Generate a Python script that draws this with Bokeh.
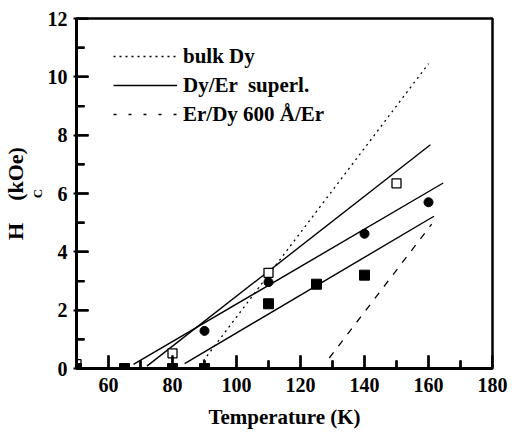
import math
from bokeh.plotting import figure
from bokeh.models import FixedTicker, Range1d, Legend, LegendItem, Title, BoxAnnotation
from bokeh.embed import file_html
from bokeh.resources import INLINE

# ---- data ----
open_sq_x = [50, 80, 110, 150]
open_sq_y = [0.15, 0.52, 3.28, 6.35]

circ_x = [90, 110, 140, 160]
circ_y = [1.29, 2.96, 4.62, 5.70]

fill_sq_x = [50, 65, 80, 90, 110, 125, 140]
fill_sq_y = [0.0, 0.0, 0.0, 0.0, 2.22, 2.89, 3.20]

# fit lines (endpoints)
bulk_x = [88.5, 160]
bulk_y = [0.1, 10.45]

film_x = [129, 161]
film_y = [0.36, 4.95]

sl_a_x = [72, 160.6]
sl_a_y = [0.08, 7.67]
sl_b_x = [67.8, 164.6]
sl_b_y = [0.14, 6.36]
sl_c_x = [83.8, 161.7]
sl_c_y = [0.17, 5.22]

x_major = [60, 80, 100, 120, 140, 160, 180]
x_minor = [50, 70, 90, 110, 130, 150, 170]
y_major = [0, 2, 4, 6, 8, 10, 12]
y_minor = [1, 3, 5, 7, 9, 11]

legend_labels = ["bulk Dy", "Dy/Er  superl.", "Er/Dy 600 Å/Er"]
x_title = "Temperature (K)"
y_title_main = "H\u00a0\u00a0\u00a0\u00a0(kOe)"
y_title_sub = "C"

FONT = "Liberation Serif"
NAN = float("nan")
X0, X1, Y0, Y1 = 50, 180, 0, 12
FRAME_W, FRAME_H = 417, 350

p = figure(width=527, height=440, output_backend="svg", toolbar_location=None,
           x_range=Range1d(X0, X1), y_range=Range1d(Y0, Y1),
           min_border_left=75, min_border_right=35, min_border_top=18,
           min_border_bottom=72)
p.grid.visible = False
p.background_fill_color = "white"
p.border_fill_color = "white"
p.outline_line_color = "black"
p.outline_line_width = 2.5

p.xaxis.ticker = FixedTicker(ticks=x_major, minor_ticks=x_minor)
p.yaxis.ticker = FixedTicker(ticks=y_major, minor_ticks=y_minor)

p.axis.axis_line_width = 3
p.axis.axis_line_color = "black"
p.axis.major_tick_line_color = "black"
p.axis.minor_tick_line_color = "black"
p.axis.major_tick_line_width = 2
p.axis.minor_tick_line_width = 2
p.axis.major_label_text_font = FONT
p.axis.major_label_text_font_style = "bold"
p.axis.major_label_text_font_size = "20px"
p.axis.major_label_text_color = "black"

p.xaxis.major_tick_in = 13
p.xaxis.major_tick_out = 0
p.xaxis.minor_tick_in = 8
p.xaxis.minor_tick_out = 0
p.yaxis.major_tick_in = 12
p.yaxis.major_tick_out = 3
p.yaxis.minor_tick_in = 8
p.yaxis.minor_tick_out = 0
p.xaxis.major_label_standoff = 9
p.yaxis.major_label_standoff = 6

p.xaxis.axis_label = x_title
p.xaxis.axis_label_text_font = FONT
p.xaxis.axis_label_text_font_style = "bold"
p.xaxis.axis_label_text_font_size = "21px"
p.xaxis.axis_label_text_color = "black"
p.xaxis.axis_label_standoff = 10

# y-axis title: subscript column (closer to axis) then main column
t_sub = Title(text=y_title_sub, align="center", offset=-24, standoff=0,
              text_font=FONT, text_font_style="bold", text_font_size="13px",
              text_color="black")
t_main = Title(text=y_title_main, align="center", offset=0, standoff=0,
               text_font=FONT, text_font_style="bold", text_font_size="22px",
               text_color="black")
p.add_layout(t_sub, "left")
p.add_layout(t_main, "left")

# lines
r_bulk = p.line(bulk_x, bulk_y, line_color="black", line_width=1.3, line_dash="2 4")
r_film = p.line(film_x, film_y, line_color="black", line_width=1.3, line_dash="7 8")
r_a = p.line(sl_a_x, sl_a_y, line_color="black", line_width=1.4)
r_b = p.line(sl_b_x, sl_b_y, line_color="black", line_width=1.4)
r_c = p.line(sl_c_x, sl_c_y, line_color="black", line_width=1.4)

# inward tick marks, also drawn as "dash" markers from the tick arrays
dx = (X1 - X0) / FRAME_W   # data units per pixel (x)
dy = (Y1 - Y0) / FRAME_H   # data units per pixel (y)
p.scatter(x=x_major, y=[Y0 + 6.5 * dy] * len(x_major), marker="dash", size=13,
          angle=math.pi / 2, line_color="black", line_width=2)
p.scatter(x=x_minor, y=[Y0 + 4 * dy] * len(x_minor), marker="dash", size=8,
          angle=math.pi / 2, line_color="black", line_width=2)
p.scatter(x=[X0 + 6 * dx] * len(y_major), y=y_major, marker="dash", size=12,
          line_color="black", line_width=2)
p.scatter(x=[X0 + 4 * dx] * len(y_minor), y=y_minor, marker="dash", size=8,
          line_color="black", line_width=2)

# markers
p.scatter(open_sq_x, open_sq_y, marker="square", size=9, fill_color="white",
          line_color="black", line_width=1.3)
p.scatter(circ_x, circ_y, marker="circle", size=9, fill_color="black", line_color="black")
p.scatter(fill_sq_x, fill_sq_y, marker="square", size=10, fill_color="black", line_color="black")

# tick marks as small filled box annotations (drawn at annotation level)
for t in x_major:
    p.add_layout(BoxAnnotation(left=t - dx, right=t + dx, bottom=Y0, top=Y0 + 13 * dy,
                               fill_color="black", fill_alpha=1.0, line_alpha=0))
for t in x_minor:
    p.add_layout(BoxAnnotation(left=t - dx, right=t + dx, bottom=Y0, top=Y0 + 8 * dy,
                               fill_color="black", fill_alpha=1.0, line_alpha=0))
for t in y_major:
    p.add_layout(BoxAnnotation(left=X0, right=X0 + 12 * dx, bottom=t - dy, top=t + dy,
                               fill_color="black", fill_alpha=1.0, line_alpha=0))
for t in y_minor:
    p.add_layout(BoxAnnotation(left=X0, right=X0 + 8 * dx, bottom=t - dy, top=t + dy,
                               fill_color="black", fill_alpha=1.0, line_alpha=0))

# legend-only renderer for the sparse dash sample
leg_film = p.line([NAN, NAN], [NAN, NAN], line_color="black", line_width=1.3, line_dash="3 12")

legend = Legend(items=[LegendItem(label=legend_labels[0], renderers=[r_bulk]),
                       LegendItem(label=legend_labels[1], renderers=[r_a]),
                       LegendItem(label=legend_labels[2], renderers=[leg_film])],
                location=(37, 241), orientation="vertical")
legend.label_text_font = FONT
legend.label_text_font_style = "bold"
legend.label_text_font_size = "21px"
legend.label_text_color = "black"
legend.label_height = 26
legend.glyph_height = 26
legend.glyph_width = 64
legend.spacing = 3
legend.padding = 0
legend.margin = 0
legend.label_standoff = 6
legend.background_fill_alpha = 0
legend.border_line_alpha = 0
p.add_layout(legend, "center")

open("out.html", "w").write(file_html(p, INLINE))
